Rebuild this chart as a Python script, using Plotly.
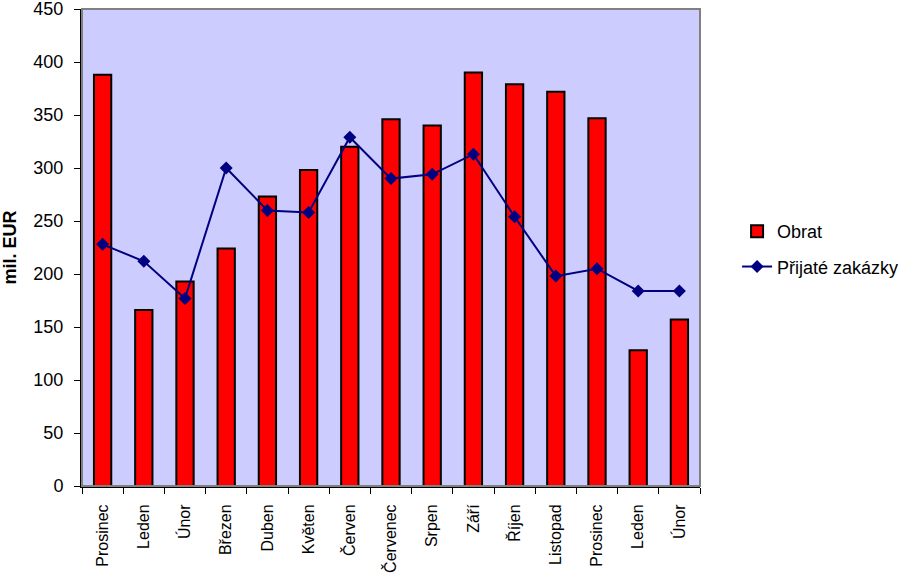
import plotly.graph_objects as go

months = ["Prosinec", "Leden", "Únor", "Březen", "Duben", "Květen", "Červen",
          "Červenec", "Srpen", "Září", "Říjen", "Listopad", "Prosinec", "Leden", "Únor"]
periods = ["2004-12", "2005-01", "2005-02", "2005-03", "2005-04", "2005-05", "2005-06",
           "2005-07", "2005-08", "2005-09", "2005-10", "2005-11", "2005-12", "2006-01", "2006-02"]
obrat = [388, 166, 193, 224, 273, 298, 320, 346, 340, 390, 379, 372, 347, 128, 157]
zakazky = [228, 212, 177, 300, 260, 258, 329, 290, 294, 313, 254, 198, 205, 184, 184]
y_ticks = [0, 50, 100, 150, 200, 250, 300, 350, 400, 450]

FONT = "Liberation Sans, Arial, sans-serif"

fig = go.Figure()
fig.add_trace(go.Bar(
    x=periods, y=obrat, name="Obrat", legendgroup="a",
    marker=dict(color="#FF0000", line=dict(color="#000000", width=2)),
    width=0.42,
))
fig.add_trace(go.Scatter(
    x=periods, y=zakazky, name="Přijaté zakázky", legendgroup="b",
    mode="lines+markers",
    line=dict(color="#000080", width=2),
    marker=dict(symbol="diamond", size=10, color="#000080"),
))

fig.add_shape(type="rect", xref="paper", yref="paper", x0=0, x1=1, y0=0, y1=1,
              line=dict(color="#808080", width=2), layer="above")

fig.update_layout(
    width=909, height=573,
    margin=dict(l=82, r=209, t=9, b=87, autoexpand=False),
    paper_bgcolor="white",
    plot_bgcolor="#CCCCFF",
    font=dict(family=FONT, color="black"),
    showlegend=True,
    legend=dict(x=1.06, y=0.497, xanchor="left", yanchor="middle",
                font=dict(size=18, family=FONT), tracegroupgap=9,
                traceorder="grouped", bgcolor="rgba(0,0,0,0)"),
    xaxis=dict(
        type="category", tickmode="array", tickvals=periods, ticktext=months,
        tickson="boundaries", ticks="outside", ticklen=6, tickcolor="black",
        tickangle=-90, tickfont=dict(size=16, family=FONT), ticklabelstandoff=10,
        showline=True, linecolor="black", linewidth=2, automargin=False,
        ticklabeloverflow="allow",
        showgrid=False, zeroline=False, range=[-0.5, 14.5],
    ),
    yaxis=dict(
        range=[0, 450.001], tickmode="array", tickvals=y_ticks,
        ticks="outside", ticklen=6, tickcolor="black",
        tickfont=dict(size=18, family=FONT), ticklabelstandoff=7,
        showline=True, linecolor="black", linewidth=2, automargin=False,
        ticklabeloverflow="allow",
        showgrid=False, zeroline=False,
        title=dict(text="<b>mil. EUR</b>", font=dict(size=18, family=FONT), standoff=13),
    ),
    bargap=0.58,
)

fig.write_html("out.html")
